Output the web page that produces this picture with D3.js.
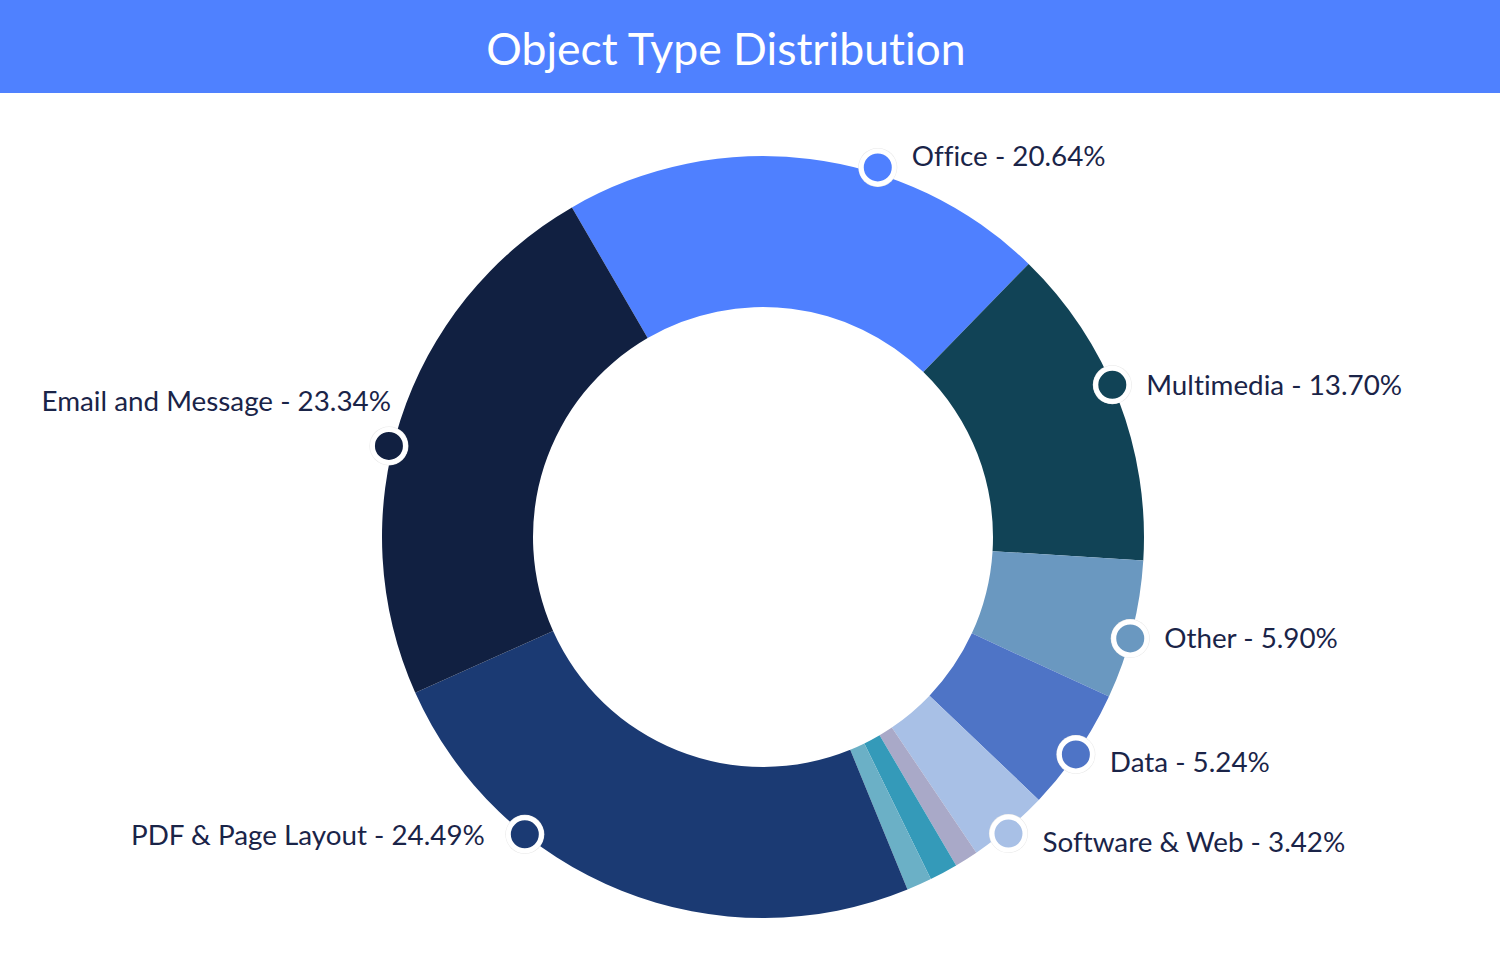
<!DOCTYPE html>
<html>
<head>
<meta charset="utf-8">
<script src="https://cdn.jsdelivr.net/npm/d3@7/dist/d3.min.js"></script>
<style>
html,body{margin:0;padding:0;background:#fff;}
svg{display:block;}
text{font-variant-ligatures:none;font-feature-settings:"liga" 0;}
</style>
</head>
<body>
<svg id="chart" width="1500" height="977"></svg>
<script>
// ---- data ----
const categories = ["Office","Multimedia","Other","Data","Software & Web","Unlabeled A","Unlabeled B","Unlabeled C","PDF & Page Layout","Email and Message"];
const values = [20.64, 13.70, 5.90, 5.24, 3.42, 1.00, 1.20, 1.07, 24.49, 23.34];
const colors = ["#4F80FF","#114356","#6A98C0","#4E74C6","#A8C0E6","#A9A9C8","#349AB9","#6BB0C6","#1B3A73","#112041"];
const labeled = ["Office","Multimedia","Other","Data","Software & Web","PDF & Page Layout","Email and Message"];
const title = "Object Type Distribution";

// ---- layout config ----
const W = 1500, H = 977;
const cx = 763, cy = 537, R = 381, r0 = 230;
const startDeg = -30.1;
const labelShiftDeg = {"Office":10.2,"Multimedia":-2.4,"Other":1.3,"Data":0.6,"Software & Web":0.6,"PDF & Page Layout":16.9,"Email and Message":-4.2};
const labelR = {"Office":387,"Email and Message":385,"Software & Web":385};
const textDy = {"Office":-12,"Multimedia":0,"Other":-1,"Data":7,"Software & Web":8,"PDF & Page Layout":0,"Email and Message":-45};
const font = "Lato, 'Open Sans', sans-serif";

const svg = d3.select("#chart");
svg.append("rect").attr("x",0).attr("y",0).attr("width",W).attr("height",93).attr("fill","#4F81FF");
svg.append("text").attr("x",726).attr("y",47).attr("text-anchor","middle")
  .attr("dominant-baseline","central").attr("fill","#fff")
  .style("font-family",font).style("font-size","44.5px").text(title);

const data = categories.map((c,i)=>({name:c,value:values[i],color:colors[i]}));
const toRad = d=>d*Math.PI/180;
const pie = d3.pie().value(d=>d.value).sort(null)
  .startAngle(toRad(startDeg)).endAngle(toRad(startDeg)+2*Math.PI);
const arcs = pie(data);
const arc = d3.arc().innerRadius(r0).outerRadius(R);

const g = svg.append("g").attr("transform",`translate(${cx},${cy})`);
g.selectAll("path.slice").data(arcs).enter().append("path")
  .attr("class","slice").attr("d",arc).attr("fill",d=>d.data.color);

const lab = arcs.filter(a=>labeled.includes(a.data.name));
lab.forEach(a=>{
  const ang = (a.startAngle+a.endAngle)/2 + toRad(labelShiftDeg[a.data.name]||0);
  const rr = labelR[a.data.name]||R;
  const x = rr*Math.sin(ang), y = -rr*Math.cos(ang);
  g.append("circle").attr("cx",x).attr("cy",y).attr("r",19.5).attr("fill","#e8e8e8");
  g.append("circle").attr("cx",x).attr("cy",y).attr("r",16.5).attr("fill",a.data.color)
    .attr("stroke","#fff").attr("stroke-width",5);
  const right = x>0;
  let tx, anchor;
  if (a.data.name==="Email and Message"){ tx = x+2; anchor="end"; }
  else if (right){ tx = x+34; anchor="start"; }
  else { tx = x-40; anchor="end"; }
  g.append("text").attr("x",tx).attr("y",y+(textDy[a.data.name]||0))
    .attr("text-anchor",anchor).attr("dominant-baseline","central")
    .attr("fill","#1A2448").style("font-family",font).style("font-size","27.8px")
    .text(`${a.data.name} - ${a.data.value.toFixed(2)}%`);
});
</script>
</body>
</html>
